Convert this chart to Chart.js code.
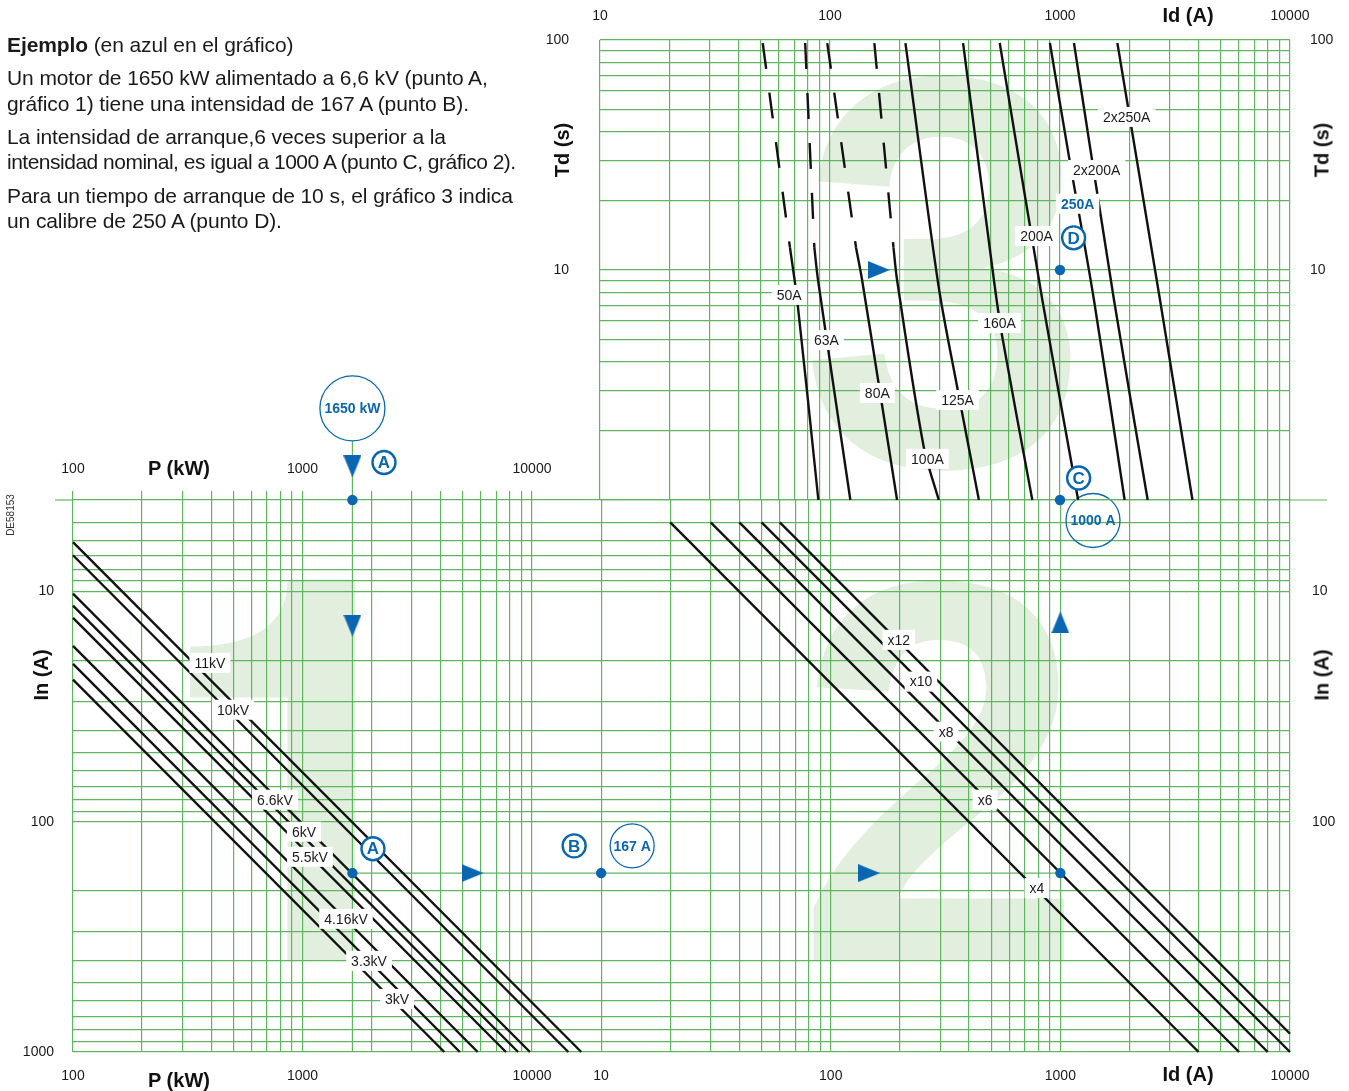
<!DOCTYPE html>
<html lang="es">
<head>
<meta charset="utf-8">
<title>Selección del calibre</title>
<script src="https://cdn.jsdelivr.net/npm/chart.js@4.4.1/dist/chart.umd.min.js"></script>
<style>
  html, body { margin:0; padding:0; background:#fff; }
  #page { position:relative; width:1349px; height:1091px; overflow:hidden; font-family:'Liberation Sans', Arial, Helvetica, sans-serif; color:#1a1a1a; }
  #page canvas { position:absolute; left:0; top:0; }
  .p { position:absolute; left:7px; font-size:21px; line-height:22px; white-space:nowrap; letter-spacing:-0.1px; }
  .ttl { position:absolute; font-weight:bold; font-size:20px; white-space:nowrap; transform:translate(-50%,-50%); color:#111; }
  .ttl.rot { transform:translate(-50%,-50%) rotate(-90deg); }
  .code { position:absolute; font-size:10px; color:#333; transform:translate(-50%,-50%) rotate(-90deg); white-space:nowrap; }
</style>
</head>
<body>
<div id="page">
  <canvas id="g2" width="1349" height="1091"></canvas>
  <canvas id="g3" width="1349" height="1091"></canvas>
  <canvas id="g1" width="1349" height="1091"></canvas>

  <div class="p" style="top:34px"><b>Ejemplo</b> (en azul en el gráfico)</div>
  <div class="p" style="top:67px">Un motor de 1650 kW alimentado a 6,6 kV (punto A,</div>
  <div class="p" style="top:93px">gráfico 1) tiene una intensidad de 167 A (punto B).</div>
  <div class="p" style="top:126px">La intensidad de arranque,6 veces superior a la</div>
  <div class="p" style="top:151px;letter-spacing:-0.5px">intensidad nominal, es igual a 1000 A (punto C, gráfico 2).</div>
  <div class="p" style="top:185px">Para un tiempo de arranque de 10 s, el gráfico 3 indica</div>
  <div class="p" style="top:210px">un calibre de 250 A (punto D).</div>

  <div class="ttl" style="left:179px;top:468px">P (kW)</div>
  <div class="ttl" style="left:179px;top:1080px">P (kW)</div>
  <div class="ttl" style="left:1188px;top:15px">Id (A)</div>
  <div class="ttl" style="left:1188px;top:1074px">Id (A)</div>
  <div class="ttl rot" style="left:41px;top:675px">In (A)</div>
  <div class="ttl rot" style="left:1322px;top:675px">In (A)</div>
  <div class="ttl rot" style="left:562px;top:150px">Td (s)</div>
  <div class="ttl rot" style="left:1322px;top:150px">Td (s)</div>
  <div class="code" style="left:10px;top:515px">DE58153</div>
</div>

<script>
// ---------------- DATA ----------------
// Tick labels
const pTickLabels   = [100, 1000, 10000];
const idTickLabels  = [10, 100, 1000, 10000];
const inTickLabels  = [10, 100, 1000];
const inTickLabelsR = [10, 100];
const tdTickLabels  = [10, 100];
const mantissas     = [1, 2, 3, 4, 5, 6, 7, 8, 9];

// Graph 1 : P (kW) -> In (A) for each supply voltage
const g1Volt  = ['11kV', '10kV', '6.6kV', '6kV', '5.5kV', '4.16kV', '3.3kV', '3kV'];
const g1P0    = [100, 100, 100, 100, 100, 100, 100, 100];
const g1In0   = [6.1, 6.95, 10.2, 11.5, 13.0, 17.2, 20.6, 24.1];
const g1P1    = [16400, 14400, 9800, 8700, 7700, 5800, 4850, 4150];
const g1In1   = [1000, 1000, 1000, 1000, 1000, 1000, 1000, 1000];
const g1LabP  = [395, 498, 759, 1015, 1078, 1547, 1949, 2580];
const g1LabIn = [20.4, 32.6, 80.2, 110.5, 142, 264, 402, 588];

// Graph 2 : In (A) -> Id (A) for each starting ratio
const g2Mult  = ['x4', 'x6', 'x8', 'x10', 'x12'];
const g2Id0   = [20, 30, 40, 50, 60];
const g2In0   = [5, 5, 5, 5, 5];
const g2Id1   = [4000, 6000, 8000, 10000, 10000];
const g2In1   = [1000, 1000, 1000, 1000, 833];
const g2LabId = [791, 470, 318, 247, 198];
const g2LabIn = [194, 80.2, 40.6, 24.6, 16.2];

// Graph 3 : fuse curves Id (A) / Td (s)
const g3Fuse   = ['50A', '63A', '80A', '100A', '125A', '160A', '200A', '250A', '2x200A', '2x250A'];
const g3DashId = [[51, 67], [78, 85.5], [97.3, 129.8], [155.9, 188.8]];
const g3DashTd = [[97, 12.5], [97, 12.5], [97, 12.5], [97, 12.5]];
const g3Id = [
  [67, 72, 89], [85.5, 88.7, 122.6], [129.8, 137.9, 165.2, 195.7], [188.8, 195.7, 255.6, 297],
  [212.8, 296, 357, 444], [379, 516, 561, 758], [547, 838, 1199], [904, 1094, 1405, 1910],
  [1150, 1717, 2406], [1776, 2722, 3766]
];
const g3Td = [
  [12.5, 7.41, 1], [12.5, 9.05, 1], [12.5, 9.05, 2.92, 1], [12.5, 9.05, 1.7, 1],
  [97, 8.61, 3.11, 1], [97, 9.05, 5.13, 1], [97, 7.41, 1], [97, 31.1, 7.41, 1],
  [97, 7.41, 1], [97, 7.41, 1]
];
const g3LabId = [66.5, 96.4, 160.6, 265.2, 358.4, 545.8, 791, 1193, 1443, 1950];
const g3LabTd = [7.79, 4.96, 2.92, 1.51, 2.72, 5.88, 14.05, 19.4, 27.2, 46.3];
const g3Chosen = '250A';

// Worked example (blue)
const motorP   = 1650;   // kW
const motorIn  = 167;    // A
const startId  = 1000;   // A
const startTd  = 10;     // s
const inTop    = 4;      // In at top edge of graphs 1-2
const tdBottom = 1;      // Td at bottom edge of graph 3

// ---------------- STYLE ----------------
const FONT = "'Liberation Sans', Arial, Helvetica, sans-serif";
const GRID = 'rgb(96,182,96)';
const GRID_W = 1.2;
const INK = '#111111';
const BLUE = '#0b66b2';
const PALE = '#e2efdf';
const TICK_COLOR = '#1a1a1a';
Chart.defaults.font.family = FONT;

// outline of the big decorative "1" (unit box)
const ONE_SHAPE = [[0.59, 0], [1, 0], [1, 1], [0.59, 1], [0.59, 0.31], [0, 0.31], [0, 0.176]];

function gridTicks(lo, hi) {
  const out = [];
  for (let e = -2; e <= 5; e++) {
    for (const m of mantissas) {
      const v = Number((m * Math.pow(10, e)).toPrecision(6));
      if (v >= lo * 0.999999 && v <= hi * 1.000001) out.push({ value: v });
    }
  }
  return out;
}
function labeler(list) {
  return (v) => {
    const n = Number(v);
    const hit = list.find(t => Math.abs(t - n) <= t * 1e-6);
    return hit === undefined ? '' : String(hit);
  };
}
function logAxis(o) {
  const horiz = o.pos === 'top' || o.pos === 'bottom';
  return {
    type: 'logarithmic', axis: horiz ? 'x' : 'y', position: o.pos,
    min: o.min, max: o.max, reverse: !!o.reverse,
    afterBuildTicks: (s) => { s.ticks = gridTicks(o.gridLo ?? o.min, o.gridHi ?? o.max); },
    afterFit: (s) => { if (horiz) s.height = o.size; else s.width = o.size; },
    grid: { display: o.grid !== false, color: GRID, lineWidth: GRID_W, drawTicks: !!o.tick,
            tickLength: o.tick || 0, tickColor: GRID, tickWidth: GRID_W },
    border: { display: false },
    ticks: { callback: labeler(o.labels), autoSkip: false, maxRotation: 0, minRotation: 0,
             padding: o.pad, color: TICK_COLOR, font: { family: FONT, size: 14 } }
  };
}
function lineDs(xs, ys, extra) {
  return Object.assign({
    data: xs.map((x, i) => ({ x: x, y: ys[i] })),
    showLine: true, borderColor: INK, borderWidth: 2.4, pointRadius: 0,
    fill: false, tension: 0, clip: false, order: 2, borderCapStyle: 'butt'
  }, extra || {});
}
function dotDs(pts) {
  return { data: pts, showLine: false, pointRadius: 5.2, pointBackgroundColor: BLUE,
           pointBorderWidth: 0, clip: false, order: 0 };
}
function triCanvas(dir) {
  const L = 22, B = 18;
  const c = document.createElement('canvas');
  const vert = dir === 'down' || dir === 'up';
  c.width = vert ? B : L; c.height = vert ? L : B;
  const g = c.getContext('2d');
  g.fillStyle = BLUE; g.beginPath();
  if (dir === 'down') { g.moveTo(0, 0); g.lineTo(B, 0); g.lineTo(B / 2, L); }
  if (dir === 'up')   { g.moveTo(0, L); g.lineTo(B, L); g.lineTo(B / 2, 0); }
  if (dir === 'right'){ g.moveTo(0, 0); g.lineTo(0, B); g.lineTo(L, B / 2); }
  g.closePath(); g.fill();
  return c;
}
const TRI = { down: triCanvas('down'), up: triCanvas('up'), right: triCanvas('right') };

function boxLabel(ctx, text, x, y, color, bold) {
  ctx.font = (bold ? 'bold ' : '') + '14px ' + FONT;
  const w = ctx.measureText(text).width;
  ctx.fillStyle = '#ffffff';
  ctx.fillRect(x - w / 2 - 5, y - 10, w + 10, 20);
  ctx.fillStyle = color;
  ctx.textAlign = 'center'; ctx.textBaseline = 'middle';
  ctx.fillText(text, x, y + 1);
}

function decor(cfg) {
  return {
    id: 'decor',
    beforeDraw(chart) {
      const n = cfg.numeral; if (!n) return;
      const ctx = chart.ctx, xs = chart.scales.x, ys = chart.scales.y;
      const xa = xs.getPixelForValue(n.x[0]), xb = xs.getPixelForValue(n.x[1]);
      const ya = ys.getPixelForValue(n.y[0]), yb = ys.getPixelForValue(n.y[1]);
      const L = Math.min(xa, xb), R = Math.max(xa, xb), T = Math.min(ya, yb), B = Math.max(ya, yb);
      ctx.save();
      ctx.fillStyle = PALE;
      if (n.shape) {
        const W = R - L, H = B - T;
        const P = (p) => [L + p[0] * W, T + p[1] * H];
        ctx.beginPath();
        n.shape.forEach((p, i) => { const q = P(p); if (i === 0) ctx.moveTo(q[0], q[1]); else ctx.lineTo(q[0], q[1]); });
        const c = P([0.59, 0.176]), e = P(n.shape[0]);
        ctx.quadraticCurveTo(c[0], c[1], e[0], e[1]);
        ctx.closePath(); ctx.fill();
      } else {
        ctx.font = 'bold 100px "Liberation Sans"';
        const m = ctx.measureText(n.ch);
        const w = m.actualBoundingBoxLeft + m.actualBoundingBoxRight;
        const h = m.actualBoundingBoxAscent + m.actualBoundingBoxDescent;
        ctx.translate(L, T);
        ctx.scale((R - L) / w, (B - T) / h);
        ctx.textAlign = 'left'; ctx.textBaseline = 'alphabetic';
        ctx.fillText(n.ch, m.actualBoundingBoxLeft, m.actualBoundingBoxAscent);
      }
      ctx.restore();
    },
    beforeDatasetsDraw(chart) {
      const s = cfg.sep; if (!s) return;
      const ctx = chart.ctx, a = chart.chartArea;
      const y = chart.scales.y.getPixelForValue(s.value);
      ctx.save(); ctx.strokeStyle = GRID; ctx.lineWidth = GRID_W; ctx.beginPath();
      if (s.side === 'left') { ctx.moveTo(a.left - s.len, y); ctx.lineTo(a.left, y); }
      else { ctx.moveTo(a.right, y); ctx.lineTo(a.right + s.len, y); }
      ctx.stroke(); ctx.restore();
    },
    afterDatasetsDraw(chart) {
      const ctx = chart.ctx, xs = chart.scales.x, ys = chart.scales.y;
      ctx.save();
      (cfg.labels || []).forEach(l => {
        boxLabel(ctx, l.text, xs.getPixelForValue(l.x), ys.getPixelForValue(l.y), l.color || '#1a1a1a', l.bold);
      });
      (cfg.annots || []).forEach(a => {
        const px = xs.getPixelForValue(a.x), py = ys.getPixelForValue(a.y);
        if (a.kind === 'tri') {
          const im = TRI[a.dir];
          ctx.drawImage(im, px - im.width / 2, py - im.height / 2);
        } else if (a.kind === 'letter') {
          ctx.beginPath(); ctx.arc(px, py, 11.5, 0, Math.PI * 2);
          ctx.fillStyle = '#fff'; ctx.fill();
          ctx.lineWidth = 2.4; ctx.strokeStyle = BLUE; ctx.stroke();
          ctx.fillStyle = BLUE; ctx.font = 'bold 17px ' + FONT;
          ctx.textAlign = 'center'; ctx.textBaseline = 'middle';
          ctx.fillText(a.text, px, py + 1);
        } else if (a.kind === 'bubble') {
          ctx.beginPath(); ctx.arc(px, py, a.r, 0, Math.PI * 2);
          if (a.fill) { ctx.fillStyle = '#fff'; ctx.fill(); }
          ctx.lineWidth = 1.3; ctx.strokeStyle = BLUE; ctx.stroke();
          ctx.fillStyle = BLUE; ctx.font = 'bold 14px ' + FONT;
          ctx.textAlign = 'center'; ctx.textBaseline = 'middle';
          ctx.fillText(a.text, px, py + 1);
        }
      });
      ctx.restore();
    }
  };
}

const baseOpts = (padding) => ({
  responsive: false, animation: false, events: [],
  layout: { padding: padding },
  plugins: { legend: { display: false }, tooltip: { enabled: false } }
});

// ---------------- GRAPH 2 (bottom right) ----------------
const g2Sets = [];
g2Sets.push(lineDs([5, startId], [motorIn, motorIn], { borderColor: GRID, borderWidth: GRID_W, order: 5 }));
g2Mult.forEach((m, i) => g2Sets.push(lineDs([g2Id0[i], g2Id1[i]], [g2In0[i], g2In1[i]])));
g2Sets.push(dotDs([{ x: 10, y: motorIn }, { x: startId, y: motorIn }]));

new Chart(document.getElementById('g2'), {
  type: 'scatter',
  data: { datasets: g2Sets },
  options: Object.assign(baseOpts({ left: 532, top: 500, right: 9, bottom: 9 }), {
    scales: {
      x: logAxis({ pos: 'bottom', min: 5, max: 10000, gridLo: 10, labels: idTickLabels, size: 30, pad: 16 }),
      y: logAxis({ pos: 'right', min: inTop, max: 1000, reverse: true, labels: inTickLabelsR, size: 50, pad: 22 })
    }
  }),
  plugins: [decor({
    numeral: { ch: '2', x: [82.1, 1059], y: [8.87, 398] },
    sep: { side: 'right', value: inTop, len: 37 },
    labels: g2Mult.map((m, i) => ({ text: m, x: g2LabId[i], y: g2LabIn[i] })),
    annots: [
      { kind: 'letter', text: 'B', x: 7.63, y: 127.2 },
      { kind: 'bubble', text: '167 A', x: 13.65, y: 127.2, r: 22, fill: true },
      { kind: 'tri', dir: 'right', x: 146.8, y: motorIn },
      { kind: 'tri', dir: 'up', x: startId, y: 13.6 },
      { kind: 'bubble', text: '1000 A', x: 1387, y: 4.91, r: 27, fill: false }
    ]
  })]
});

// ---------------- GRAPH 3 (top right) ----------------
const g3Sets = [];
g3DashId.forEach((xs, i) => g3Sets.push(lineDs(xs, g3DashTd[i], { borderDash: [26, 24] })));
g3Fuse.forEach((f, i) => g3Sets.push(lineDs(g3Id[i], g3Td[i], { tension: 0.3 })));
g3Sets.push(dotDs([{ x: startId, y: tdBottom }, { x: startId, y: startTd }]));

new Chart(document.getElementById('g3'), {
  type: 'scatter',
  data: { datasets: g3Sets },
  options: Object.assign(baseOpts({ left: 540, top: 0, right: 9, bottom: 591 }), {
    scales: {
      x: logAxis({ pos: 'top', min: 10, max: 10000, labels: idTickLabels, size: 40, pad: 15 }),
      y: logAxis({ pos: 'left', min: 1, max: 100, labels: tdTickLabels, size: 60, pad: 31 }),
      y2: logAxis({ pos: 'right', min: 1, max: 100, labels: tdTickLabels, size: 50, pad: 20, grid: false })
    }
  }),
  plugins: [decor({
    numeral: { ch: '3', x: [82.1, 1110], y: [70.6, 1.35] },
    labels: g3Fuse.map((f, i) => ({ text: f, x: g3LabId[i], y: g3LabTd[i],
                                     color: f === g3Chosen ? BLUE : '#1a1a1a', bold: f === g3Chosen })),
    annots: [
      { kind: 'tri', dir: 'right', x: 163.1, y: startTd },
      { kind: 'letter', text: 'C', x: 1205, y: 1.246 },
      { kind: 'letter', text: 'D', x: 1146, y: 13.8 }
    ]
  })]
});

// ---------------- GRAPH 1 (bottom left) ----------------
const g1Sets = [];
g1Sets.push(lineDs([motorP, motorP], [2.2, 1000], { borderColor: GRID, borderWidth: GRID_W, order: 5 }));
g1Sets.push(lineDs([motorP, 10000], [motorIn, motorIn], { borderColor: GRID, borderWidth: GRID_W, order: 5 }));
g1Volt.forEach((v, i) => g1Sets.push(lineDs([g1P0[i], g1P1[i]], [g1In0[i], g1In1[i]])));
g1Sets.push(dotDs([{ x: motorP, y: inTop }, { x: motorP, y: motorIn }]));

new Chart(document.getElementById('g1'), {
  type: 'scatter',
  data: { datasets: g1Sets },
  options: Object.assign(baseOpts({ left: 13, top: 460, right: 817, bottom: 9 }), {
    scales: {
      x: logAxis({ pos: 'top', min: 100, max: 10000, labels: pTickLabels, size: 40, pad: 13, tick: 9 }),
      x2: logAxis({ pos: 'bottom', min: 100, max: 10000, labels: pTickLabels, size: 30, pad: 16, grid: false }),
      y: logAxis({ pos: 'left', min: inTop, max: 1000, reverse: true, labels: inTickLabels, size: 60, pad: 19 })
    }
  }),
  plugins: [decor({
    numeral: { ch: '1', shape: ONE_SHAPE, x: [324, 1693], y: [8.87, 398] },
    sep: { side: 'left', value: inTop, len: 18 },
    labels: g1Volt.map((v, i) => ({ text: v, x: g1LabP[i], y: g1LabIn[i] })),
    annots: [
      { kind: 'bubble', text: '1650 kW', x: motorP, y: 1.6, r: 32.5, fill: true },
      { kind: 'tri', dir: 'down', x: motorP, y: 2.86 },
      { kind: 'letter', text: 'A', x: 2265, y: 2.75 },
      { kind: 'tri', dir: 'down', x: motorP, y: 14.05 },
      { kind: 'letter', text: 'A', x: 2028, y: 131 },
      { kind: 'tri', dir: 'right', x: 5505, y: motorIn }
    ]
  })]
});
</script>
</body>
</html>
